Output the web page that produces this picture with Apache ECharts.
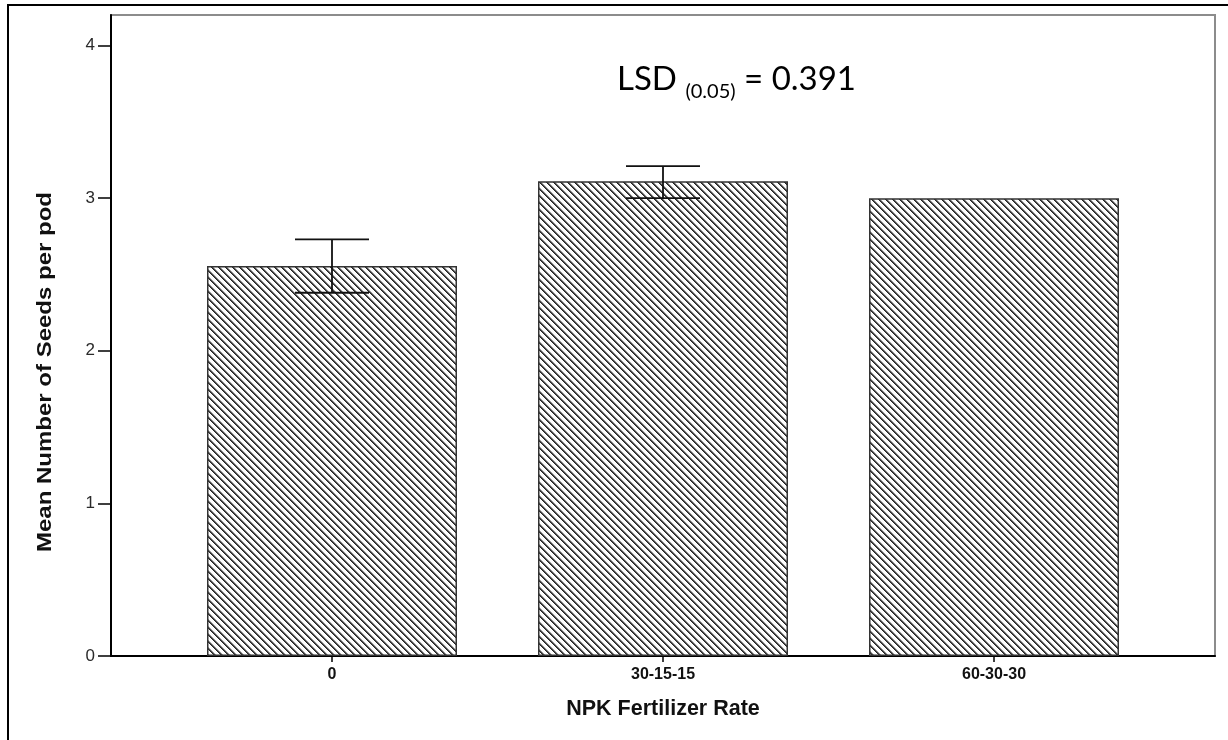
<!DOCTYPE html>
<html>
<head>
<meta charset="utf-8">
<script src="https://cdn.jsdelivr.net/npm/echarts@6/dist/echarts.min.js"></script>
<style>
html,body{margin:0;padding:0;background:#fff;}
#chart{width:1228px;height:740px;}
</style>
</head>
<body>
<div id="chart"></div>
<script>
// ---- data ----
var categories = ['0', '30-15-15', '60-30-30'];
var means = [2.556, 3.11, 3.0];
var errLow = [2.38, 3.0, 3.0];
var errHigh = [2.73, 3.21, 3.0];
var yTicks = [0, 1, 2, 3, 4];

// hatch pattern
var P = 7;
var pc = document.createElement('canvas');
pc.width = P; pc.height = P;
var pctx = pc.getContext('2d');
pctx.fillStyle = '#fff';
pctx.fillRect(0, 0, P, P);
var shades = ['#262626', '#4a4a4a', '#a8a8a8'];
for (var x = 0; x < P; x++) {
  for (var y = 0; y < P; y++) {
    var d = ((x - y) % P + P) % P;
    if (d < 3) { pctx.fillStyle = shades[d]; pctx.fillRect(x, y, 1, 1); }
  }
}

var errData = categories.map(function (c, i) { return [i, means[i], errLow[i], errHigh[i]]; });

var chart = echarts.init(document.getElementById('chart'), null, {renderer: 'canvas'});
var option = {
  animation: false,
  backgroundColor: '#fff',
  grid: [
    {left: 111, right: 13, top: 15, bottom: 84, show: true, borderColor: '#8c8c8c', borderWidth: 2, backgroundColor: 'transparent'},
    {left: 166.5, right: 68.5, top: 15, bottom: 84}
  ],
  xAxis: [
    {type: 'value', gridIndex: 0, min: 0, max: 1,
     axisLine: {show: true, lineStyle: {color: '#000', width: 2}},
     axisTick: {show: false}, axisLabel: {show: false}, splitLine: {show: false}},
    {type: 'category', gridIndex: 1, data: categories,
     axisLine: {show: false},
     axisTick: {show: true, alignWithLabel: true, length: 6, lineStyle: {color: '#000', width: 1.5}},
     axisLabel: {margin: 11, fontFamily: 'Liberation Sans', fontWeight: 'bold', fontSize: 16, color: '#111'},
     name: 'NPK Fertilizer Rate', nameLocation: 'middle', nameGap: 42,
     nameTextStyle: {fontFamily: 'Liberation Sans', fontWeight: 'bold', fontSize: 21.5, color: '#111', verticalAlign: 'top'}
    }
  ],
  yAxis: [
    {type: 'value', gridIndex: 0, min: 0, max: 4.2, interval: 1,
     axisLine: {show: true, lineStyle: {color: '#000', width: 2}},
     axisTick: {show: true, length: 13, customValues: yTicks, lineStyle: {color: '#000', width: 1.5}},
     axisLabel: {show: true, showMaxLabel: false, margin: 16, fontFamily: 'Liberation Sans', fontSize: 17, color: '#2a2a2a',
                 formatter: function (v) { return yTicks.indexOf(v) >= 0 ? String(v) : ''; }},
     splitLine: {show: false}},
    {type: 'value', gridIndex: 1, min: 0, max: 4.2, show: false, splitLine: {show: false}}
  ],
  graphic: [
    {type: 'line', shape: {x1: 8, y1: 5, x2: 1228, y2: 5}, style: {stroke: '#000', lineWidth: 2}, z: 100},
    {type: 'line', shape: {x1: 8, y1: 4, x2: 8, y2: 740}, style: {stroke: '#000', lineWidth: 2}, z: 100},
    {type: 'text', x: 45, y: 372, rotation: Math.PI / 2, scaleX: 1.2,
     style: {text: 'Mean Number of Seeds per pod', fontFamily: 'Liberation Sans', fontWeight: 'bold', fontSize: 20,
             fill: '#111', textAlign: 'center', textVerticalAlign: 'middle'}},
    {type: 'text', x: 617, y: 62,
     style: {
       text: '{a|LSD }{s|(0.05)}{a| = 0.391}',
       rich: {
         a: {fontFamily: 'Lato', fontSize: 33, fill: '#000', color: '#000', verticalAlign: 'bottom', lineHeight: 40, padding: [0, 0, 6, 0]},
         s: {fontFamily: 'Lato', fontSize: 20, fill: '#000', color: '#000', verticalAlign: 'bottom', lineHeight: 24}
       }
     }}
  ],
  series: [
    {type: 'bar', xAxisIndex: 1, yAxisIndex: 1, data: means, barWidth: 250,
     itemStyle: {color: {image: pc, repeat: 'repeat'}, borderColor: '#333', borderWidth: 1.5}},
    {type: 'custom', xAxisIndex: 1, yAxisIndex: 1, data: errData, z: 5,
     renderItem: function (params, api) {
       var lo = api.coord([api.value(0), api.value(2)]);
       var hi = api.coord([api.value(0), api.value(3)]);
       if (Math.abs(lo[1] - hi[1]) < 0.5) return null;
       var hw = 37;
       var st = {stroke: '#111', lineWidth: 1.8};
       return {type: 'group', children: [
         {type: 'line', shape: {x1: lo[0], y1: lo[1], x2: hi[0], y2: hi[1]}, style: st},
         {type: 'line', shape: {x1: lo[0] - hw, y1: lo[1], x2: lo[0] + hw, y2: lo[1]}, style: st},
         {type: 'line', shape: {x1: hi[0] - hw, y1: hi[1], x2: hi[0] + hw, y2: hi[1]}, style: st}
       ]};
     }}
  ]
};
chart.setOption(option);
</script>
</body>
</html>
